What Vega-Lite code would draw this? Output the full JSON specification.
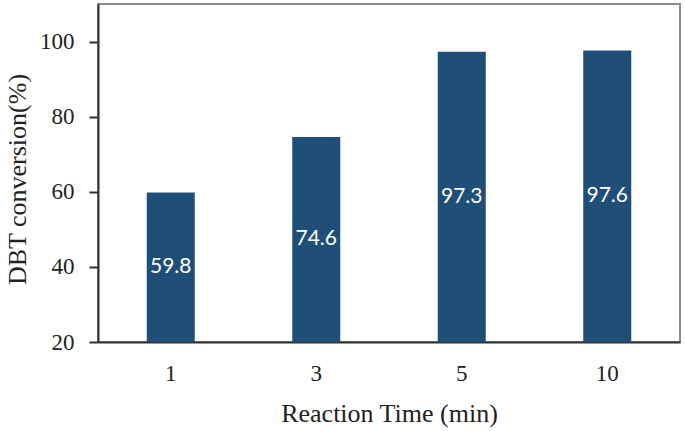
{
  "$schema": "https://vega.github.io/schema/vega-lite/v6.json",
  "width": 582,
  "height": 338,
  "autosize": {"type": "none"},
  "padding": {"left": 98, "top": 4, "right": 5, "bottom": 89},
  "background": "white",
  "config": {
    "view": {"stroke": "#8c8c8c", "strokeWidth": 2},
    "axis": {"grid": false}
  },
  "data": {
    "values": [
      {"time": "1", "conversion": 59.8},
      {"time": "3", "conversion": 74.6},
      {"time": "5", "conversion": 97.3},
      {"time": "10", "conversion": 97.6}
    ]
  },
  "transform": [
    {"calculate": "(datum.conversion + 20) / 2", "as": "labelPos"}
  ],
  "encoding": {
    "x": {
      "field": "time",
      "type": "ordinal",
      "sort": ["1", "3", "5", "10"],
      "scale": {"paddingInner": 0.67, "paddingOuter": 0.335},
      "axis": {
        "title": "Reaction Time (min)",
        "labelAngle": 0,
        "ticks": false,
        "tickSize": 0,
        "labelFont": "Liberation Serif, Times New Roman, serif",
        "labelFontSize": 23,
        "labelColor": "#222222",
        "labelBaseline": "middle",
        "labelPadding": 31,
        "domainColor": "#333333",
        "domainWidth": 2,
        "titleFont": "Liberation Serif, Times New Roman, serif",
        "titleFontSize": 26,
        "titleFontWeight": "normal",
        "titleColor": "#222222",
        "titleBaseline": "middle",
        "titleY": 71
      }
    }
  },
  "layer": [
    {
      "mark": {"type": "bar", "color": "#1f4e79"},
      "encoding": {
        "y": {
          "field": "conversion",
          "type": "quantitative",
          "scale": {"domain": [20, 110], "nice": false},
          "axis": {
            "title": "DBT conversion(%)",
            "values": [20, 40, 60, 80, 100],
            "tickSize": 9,
            "tickColor": "#333333",
            "tickWidth": 2,
            "labelPadding": 15,
            "labelFont": "Liberation Serif, Times New Roman, serif",
            "labelFontSize": 23,
            "labelColor": "#222222",
            "domainColor": "#333333",
            "domainWidth": 2,
            "titleFont": "Liberation Serif, Times New Roman, serif",
            "titleFontSize": 26,
            "titleFontWeight": "normal",
            "titleColor": "#222222",
            "titleAngle": -90,
            "titleAlign": "center",
            "titleBaseline": "middle",
            "titleX": -81,
            "titleY": 175
          }
        },
        "y2": {"datum": 20}
      }
    },
    {
      "mark": {"type": "text", "color": "white", "font": "Lato", "fontSize": 21, "baseline": "middle", "align": "center"},
      "encoding": {
        "y": {"field": "labelPos", "type": "quantitative"},
        "text": {"field": "conversion", "type": "quantitative", "format": ".1f"}
      }
    }
  ]
}
